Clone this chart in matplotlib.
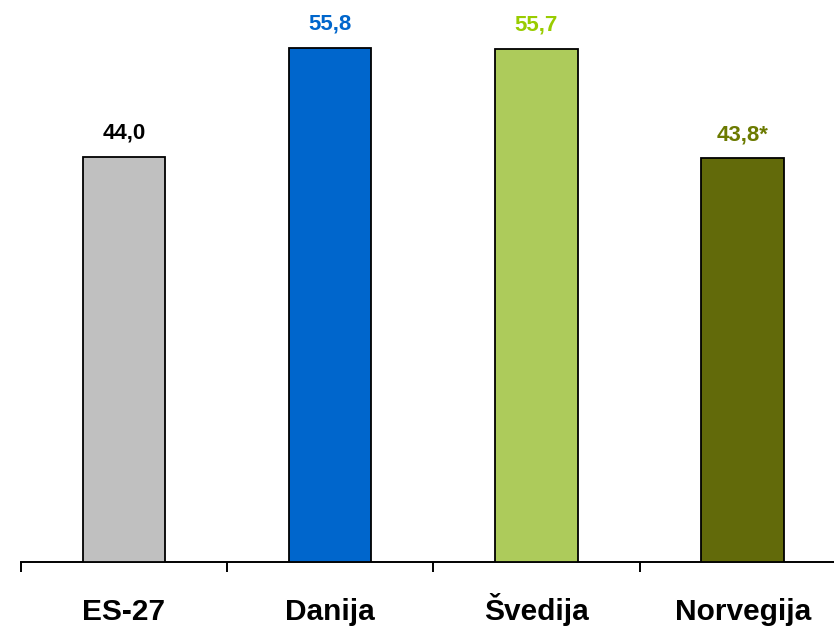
import matplotlib.pyplot as plt
import numpy as np

categories = ["ES-27", "Danija", "Švedija", "Norvegija"]
values = [44.0, 55.8, 55.7, 43.8]
value_labels = ["44,0", "55,8", "55,7", "43,8*"]
bar_colors = ["#C0C0C0", "#0066CC", "#ADCB5B", "#626A0A"]
label_colors = ["#000000", "#0066CC", "#99CC00", "#6B7A00"]

plt.rcParams['font.family'] = ['Liberation Sans', 'DejaVu Sans']

fig = plt.figure(figsize=(8.34, 6.27), dpi=100)
W, H = 834, 627
ax = fig.add_axes([20.7 / W, (H - 562) / H, 1 - 20.7 / W, 562 / H])

x = np.arange(len(categories))
ax.bar(x, values, width=0.4, color=bar_colors, edgecolor="black", linewidth=1.3, zorder=3)

# value labels above bars
for xi, v, lab, c in zip(x, values, value_labels, label_colors):
    ax.annotate(lab, (xi, v), xytext=(0, 13), textcoords="offset points",
                ha="center", va="baseline", fontsize=16, fontweight="bold", color=c)

# category labels below the axis, sharing one baseline
for xi, cat in zip(x, categories):
    ax.annotate(cat, (xi, 0), xytext=(0, -41.5), textcoords="offset points",
                ha="center", va="baseline", fontsize=21.5, fontweight="bold",
                color="black", annotation_clip=False)

ax.set_xlim(-0.5, (834 - 20.7) / 206.3 - 0.5)
ax.set_ylim(0, 61)

for s in ["left", "top", "right"]:
    ax.spines[s].set_visible(False)
ax.spines["bottom"].set_linewidth(1.4)
ax.set_yticks([])

# tick marks at category boundaries
ax.set_xticks(np.arange(-0.5, len(categories) - 0.5, 1.0))
ax.set_xticklabels([])
ax.tick_params(axis="x", length=7.5, width=1.4, direction="out")

fig.savefig("out.png", dpi=100)
